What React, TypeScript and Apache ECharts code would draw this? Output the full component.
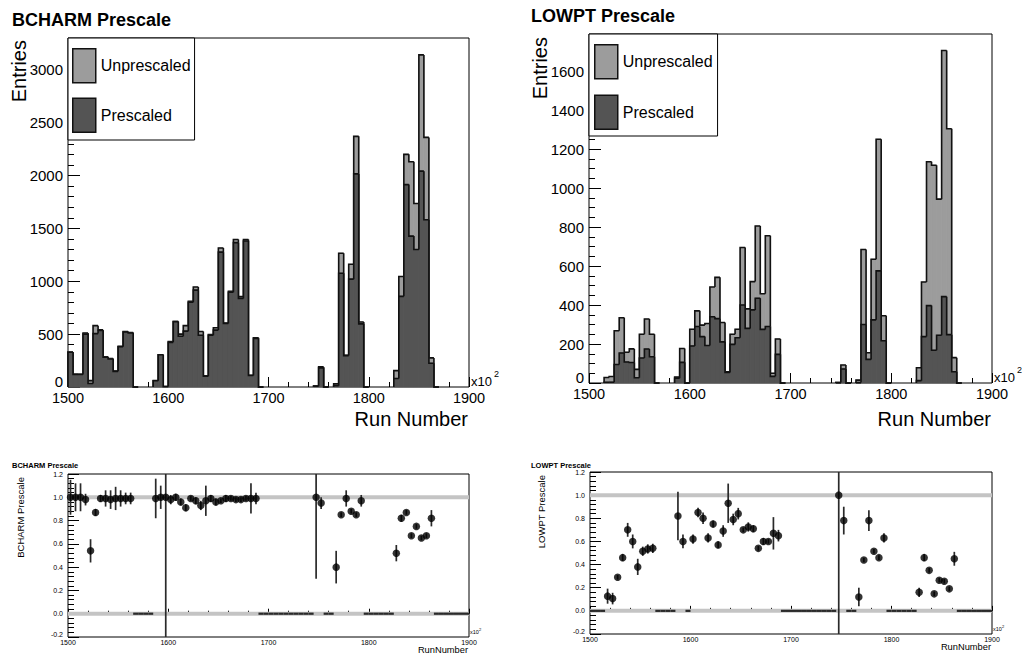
import React, { useEffect, useRef } from "react";
import * as echarts from "echarts";

const FONT = "'Liberation Sans', Arial, Helvetica, sans-serif";

// Histogram binning (run number, in units of 100)
const RUN_MIN = 1500;
const RUN_MAX = 1900;
const BIN_WIDTH = 5;

// Entries per bin (80 bins of 5 from 1500 to 1900)
const bcharmUnprescaled = [
  330, 120, 120, 510, 60, 580, 540, 285, 270, 150,
  385, 525, 515, 0, 0, 0, 0, 60, 305, 5,
  430, 620, 500, 580, 810, 945, 525, 105, 495, 560,
  1315, 605, 905, 1395, 855, 1395, 110, 465, 0, 0,
  0, 0, 0, 0, 0, 0, 0, 0, 0, 8,
  190, 0, 0, 30, 1265, 300, 1160, 2370, 615, 0,
  0, 0, 0, 0, 0, 155, 1045, 2200, 2130, 1735,
  3140, 2360, 275, 0, 0, 0, 0, 0, 0, 0,
];
const bcharmPrescaled = [
  328, 119, 119, 500, 33, 505, 535, 282, 265, 148,
  381, 520, 510, 0, 0, 0, 0, 59, 305, 5,
  422, 618, 480, 528, 802, 916, 490, 102, 490, 538,
  1275, 600, 896, 1365, 838, 1380, 109, 460, 0, 0,
  0, 0, 0, 0, 0, 0, 0, 0, 0, 8,
  181, 0, 0, 12, 1075, 297, 1020, 2015, 597, 0,
  0, 0, 0, 0, 0, 81, 857, 1914, 1427, 1300,
  2041, 1581, 225, 0, 0, 0, 0, 0, 0, 0,
];
const lowptUnprescaled = [
  0, 0, 0, 28, 33, 268, 335, 158, 175, 70,
  250, 328, 250, 0, 0, 0, 0, 30, 177, 0,
  276, 370, 297, 305, 492, 542, 310, 58, 250, 276,
  695, 380, 520, 805, 458, 755, 50, 226, 0, 0,
  0, 0, 0, 0, 0, 0, 0, 0, 0, 2,
  92, 0, 0, 15, 685, 155, 635, 1250, 345, 0,
  0, 0, 0, 0, 0, 78, 518, 1135, 1117, 943,
  1705, 1304, 130, 0, 0, 0, 0, 0, 0, 0,
];
const lowptPrescaled = [
  0, 0, 0, 4, 4, 95, 154, 108, 105, 27,
  128, 174, 135, 0, 0, 0, 0, 24, 106, 0,
  190, 290, 238, 192, 340, 330, 211, 54, 198, 232,
  400, 280, 375, 435, 275, 290, 34, 147, 0, 0,
  0, 0, 0, 0, 0, 0, 0, 0, 0, 2,
  72, 0, 0, 2, 300, 121, 324, 575, 217, 0,
  0, 0, 0, 0, 0, 12, 238, 397, 168, 245,
  443, 248, 58, 0, 0, 0, 0, 0, 0, 0,
];

// Prescale ratio per bin (0 = empty bin drawn as a segment on the zero line)
const bcharmRatio = [
  1.0, 1.0, 1.0, 0.98, 0.54, 0.87, 0.99, 0.99, 0.98, 0.99,
  0.99, 0.99, 0.99, 0, 0, 0, 0, 0.99, 1.0, 1.0,
  0.98, 1.0, 0.96, 0.91, 0.99, 0.97, 0.93, 0.97, 0.99, 0.96,
  0.97, 0.99, 0.99, 0.98, 0.98, 0.99, 0.99, 0.99, 0, 0,
  0, 0, 0, 0, 0, 0, 0, 0, 0, 1.0,
  0.95, 0, 0, 0.4, 0.85, 0.99, 0.88, 0.85, 0.97, 0,
  0, 0, 0, 0, 0, 0.52, 0.82, 0.87, 0.67, 0.75,
  0.65, 0.67, 0.82, 0, 0, 0, 0, 0, 0, 0,
];
const bcharmRatioErr = [
  0.15, 0.12, 0.12, 0.05, 0.1, 0.03, 0.03, 0.07, 0.08, 0.1,
  0.07, 0.05, 0.05, 0, 0, 0, 0, 0.17, 0.1, 1.5,
  0.04, 0.03, 0.03, 0.03, 0.02, 0.03, 0.04, 0.13, 0.03, 0.03,
  0.02, 0.03, 0.02, 0.02, 0.02, 0.02, 0.13, 0.05, 0, 0,
  0, 0, 0, 0, 0, 0, 0, 0, 0, 0.7,
  0.05, 0, 0, 0.14, 0.02, 0.07, 0.02, 0.02, 0.05, 0,
  0, 0, 0, 0, 0, 0.07, 0.03, 0.02, 0.02, 0.02,
  0.02, 0.02, 0.07, 0, 0, 0, 0, 0, 0, 0,
];
const lowptRatio = [
  0, 0, 0, 0.127, 0.106, 0.29, 0.46, 0.7, 0.6, 0.38,
  0.515, 0.535, 0.54, 0, 0, 0, 0, 0.82, 0.6, 0,
  0.62, 0.85, 0.8, 0.63, 0.75, 0.57, 0.69, 0.93, 0.79, 0.84,
  0.7, 0.725, 0.71, 0.54, 0.6, 0.6, 0.67, 0.65, 0, 0,
  0, 0, 0, 0, 0, 0, 0, 0, 0, 1.0,
  0.78, 0, 0, 0.12, 0.44, 0.78, 0.515, 0.46, 0.63, 0,
  0, 0, 0, 0, 0, 0.16, 0.46, 0.35, 0.147, 0.265,
  0.256, 0.19, 0.45, 0, 0, 0, 0, 0, 0, 0,
];
const lowptRatioErr = [
  0, 0, 0, 0.065, 0.05, 0.02, 0.03, 0.06, 0.06, 0.07,
  0.04, 0.04, 0.04, 0, 0, 0, 0, 0.21, 0.06, 0,
  0.04, 0.04, 0.05, 0.04, 0.03, 0.03, 0.05, 0.17, 0.05, 0.05,
  0.02, 0.04, 0.03, 0.02, 0.03, 0.02, 0.14, 0.05, 0, 0,
  0, 0, 0, 0, 0, 0, 0, 0, 0, 1.5,
  0.12, 0, 0, 0.08, 0.02, 0.09, 0.02, 0.02, 0.04, 0,
  0, 0, 0, 0, 0, 0.04, 0.03, 0.02, 0.02, 0.02,
  0.02, 0.02, 0.06, 0, 0, 0, 0, 0, 0, 0,
];

const referenceLevels = [1.0, 0.0];
const legendNames = ["Unprescaled", "Prescaled"];

const UNPRE_COLOR = "#9c9c9c";
const PRE_COLOR = "#545454";
const OUTLINE = "#111";

function histData(values: number[]) {
  return values.map((v, i) => [
    RUN_MIN + i * BIN_WIDTH,
    RUN_MIN + (i + 1) * BIN_WIDTH,
    v,
    i > 0 ? values[i - 1] : 0,
  ]);
}

function fillSeries(name: string, values: number[], color: string, idx: number, z: number) {
  return {
    type: "custom",
    name,
    xAxisIndex: idx,
    yAxisIndex: idx,
    z,
    silent: true,
    itemStyle: { color },
    data: histData(values),
    renderItem: (params: any, api: any) => {
      const v = api.value(2);
      if (!v) return null;
      const p0 = api.coord([api.value(0), v]);
      const p1 = api.coord([api.value(1), 0]);
      return {
        type: "rect",
        shape: { x: p0[0], y: p0[1], width: p1[0] - p0[0], height: p1[1] - p0[1] },
        style: { fill: color, stroke: color, lineWidth: 0.8 },
      };
    },
  };
}

function outlineSeries(name: string, values: number[], idx: number, z: number) {
  return {
    type: "custom",
    name,
    xAxisIndex: idx,
    yAxisIndex: idx,
    z,
    silent: true,
    itemStyle: { color: OUTLINE },
    data: histData(values),
    renderItem: (params: any, api: any) => {
      const x0 = api.value(0);
      const x1 = api.value(1);
      const v = api.value(2);
      const prev = api.value(3);
      if (!v && !prev) return null;
      const a = api.coord([x0, prev]);
      const b = api.coord([x0, v]);
      const c = api.coord([x1, v]);
      return {
        type: "polyline",
        shape: { points: [a, b, c] },
        style: { stroke: OUTLINE, lineWidth: 1.6, fill: null },
      };
    },
  };
}

function ratioSeries(label: string, ratio: number[], err: number[], idx: number) {
  const pts: number[][] = [];
  const zeros: number[][] = [];
  ratio.forEach((v, i) => {
    const x0 = RUN_MIN + i * BIN_WIDTH;
    if (v === 0) zeros.push([x0, x0 + BIN_WIDTH]);
    else pts.push([x0 + BIN_WIDTH / 2, v, err[i]]);
  });
  return [
    {
      type: "custom",
      name: label + " reference",
      xAxisIndex: idx,
      yAxisIndex: idx,
      z: 1,
      silent: true,
      data: referenceLevels.map((v) => [v]),
      renderItem: (params: any, api: any) => {
        const cs = params.coordSys;
        const y = api.coord([RUN_MIN, api.value(0)])[1];
        return {
          type: "line",
          shape: { x1: cs.x, y1: y, x2: cs.x + cs.width, y2: y },
          style: { stroke: "#c4c4c4", lineWidth: 4 },
        };
      },
    },
    {
      type: "custom",
      name: label + " empty",
      xAxisIndex: idx,
      yAxisIndex: idx,
      z: 2,
      silent: true,
      data: zeros,
      renderItem: (params: any, api: any) => {
        const a = api.coord([api.value(0), 0]);
        const b = api.coord([api.value(1), 0]);
        return {
          type: "line",
          shape: { x1: a[0], y1: a[1], x2: b[0], y2: b[1] },
          style: { stroke: "#2a2a2a", lineWidth: 2.2 },
        };
      },
    },
    {
      type: "custom",
      name: label + " errors",
      xAxisIndex: idx,
      yAxisIndex: idx,
      z: 3,
      silent: true,
      data: pts,
      renderItem: (params: any, api: any) => {
        const cs = params.coordSys;
        const x = api.value(0);
        const v = api.value(1);
        const e = api.value(2);
        const t = api.coord([x, v + e]);
        const b = api.coord([x, v - e]);
        const y1 = Math.max(cs.y, t[1]);
        const y2 = Math.min(cs.y + cs.height, b[1]);
        return {
          type: "line",
          shape: { x1: t[0], y1, x2: t[0], y2 },
          style: { stroke: "#2a2a2a", lineWidth: 1.7 },
        };
      },
    },
    {
      type: "scatter",
      name: label,
      xAxisIndex: idx,
      yAxisIndex: idx,
      z: 4,
      silent: true,
      symbol: "circle",
      symbolSize: 7.5,
      itemStyle: { color: "#000" },
      data: pts.map((p) => [p[0], p[1]]),
    },
  ];
}

function xAxisCfg(idx: number, big: boolean) {
  return {
    type: "value",
    gridIndex: idx,
    min: RUN_MIN,
    max: RUN_MAX,
    interval: 100,
    axisLine: { show: false },
    axisTick: { show: true, inside: true, length: big ? 10 : 5, lineStyle: { color: "#000", width: 1 } },
    minorTick: { show: true, splitNumber: 5, length: big ? 5 : 3, lineStyle: { color: "#000", width: 1 } },
    splitLine: { show: false },
    minorSplitLine: { show: false },
    axisLabel: {
      show: true,
      showMinLabel: true,
      showMaxLabel: true,
      color: "#000",
      fontFamily: FONT,
      fontSize: big ? 14.5 : 7,
      margin: big ? 3 : 2,
      formatter: (v: number) => String(v),
    },
  };
}

function yAxisHist(idx: number, max: number, interval: number, minorSplit: number) {
  return {
    type: "value",
    gridIndex: idx,
    min: 0,
    max,
    interval,
    axisLine: { show: false },
    axisTick: { show: true, inside: true, length: 12, lineStyle: { color: "#000", width: 1 } },
    minorTick: { show: true, splitNumber: minorSplit, length: 6, lineStyle: { color: "#000", width: 1 } },
    splitLine: { show: false },
    axisLabel: {
      showMaxLabel: false,
      color: "#000",
      fontFamily: FONT,
      fontSize: 15,
      margin: 5,
      formatter: (v: number) => (v === 0 ? "{z|0}" : String(v)),
      rich: {
        z: { fontSize: 15, fontFamily: FONT, color: "#000", padding: [0, 0, 11, 0] },
      },
    },
  };
}

function yAxisRatio(idx: number) {
  return {
    type: "value",
    gridIndex: idx,
    min: -0.2,
    max: 1.2,
    interval: 0.2,
    axisLine: { show: false },
    axisTick: { show: true, inside: true, length: 11, lineStyle: { color: "#000", width: 1 } },
    minorTick: { show: true, splitNumber: 5, length: 6, lineStyle: { color: "#000", width: 1 } },
    splitLine: { show: false },
    axisLabel: {
      color: "#000",
      fontFamily: FONT,
      fontSize: 7,
      margin: 5,
      formatter: (v: number) => (v < -0.1 ? "{z|" + v.toFixed(1) + "}" : v.toFixed(1)),
      rich: {
        z: { fontSize: 7, fontFamily: FONT, color: "#000", padding: [0, 0, 6, 0] },
      },
    },
  };
}

function legendCfg(left: number, top: number, padding: number[], gap: number) {
  return {
    left,
    top,
    orient: "vertical",
    itemWidth: 23,
    itemHeight: 34,
    itemGap: gap,
    padding,
    backgroundColor: "#fff",
    borderColor: "#000",
    borderWidth: 1,
    borderRadius: 0,
    selectedMode: false,
    textStyle: { color: "#000", fontFamily: FONT, fontSize: 16 },
    data: [
      { name: legendNames[0], icon: "rect", itemStyle: { color: UNPRE_COLOR, borderColor: OUTLINE, borderWidth: 1.5 } },
      { name: legendNames[1], icon: "rect", itemStyle: { color: PRE_COLOR, borderColor: OUTLINE, borderWidth: 1.5 } },
    ],
  };
}

function txt(text: string, x: number, y: number, size: number, opts: any = {}) {
  return {
    type: "text",
    x,
    y,
    rotation: opts.rotation || 0,
    silent: true,
    style: {
      text,
      fill: "#000",
      font: `${opts.bold ? "bold " : ""}${size}px ${FONT}`,
      textAlign: opts.align || "left",
      textVerticalAlign: "middle",
    },
  };
}

export default function App() {
  const ref = useRef<HTMLDivElement>(null);

  useEffect(() => {
    document.body.style.margin = "0";
    if (!ref.current) return;
    const chart = echarts.init(ref.current, null, { renderer: "svg" });

    const grids = [
      { left: 68, top: 38, width: 401, height: 349 },
      { left: 589, top: 34, width: 403, height: 349 },
      { left: 68, top: 474, width: 401, height: 163 },
      { left: 590, top: 472, width: 402, height: 162 },
    ].map((g) => ({ ...g, show: true, borderColor: "#000", borderWidth: 1, backgroundColor: "transparent", containLabel: false }));

    const option: any = {
      animation: false,
      textStyle: { fontFamily: FONT },
      grid: grids,
      xAxis: [xAxisCfg(0, true), xAxisCfg(1, true), xAxisCfg(2, false), xAxisCfg(3, false)],
      yAxis: [
        yAxisHist(0, 3300, 500, 5),
        yAxisHist(1, 1790, 200, 4),
        yAxisRatio(2),
        yAxisRatio(3),
      ],
      legend: [
        legendCfg(68, 38, [10, 4, 7, 4], 14),
        legendCfg(589, 34, [10, 5, 6, 5], 15),
      ],
      series: [
        fillSeries("Unprescaled", bcharmUnprescaled, UNPRE_COLOR, 0, 1),
        outlineSeries("Unprescaled", bcharmUnprescaled, 0, 2),
        fillSeries("Prescaled", bcharmPrescaled, PRE_COLOR, 0, 3),
        outlineSeries("Prescaled", bcharmPrescaled, 0, 4),
        fillSeries("Unprescaled", lowptUnprescaled, UNPRE_COLOR, 1, 1),
        outlineSeries("Unprescaled", lowptUnprescaled, 1, 2),
        fillSeries("Prescaled", lowptPrescaled, PRE_COLOR, 1, 3),
        outlineSeries("Prescaled", lowptPrescaled, 1, 4),
        ...ratioSeries("BCHARM Prescale", bcharmRatio, bcharmRatioErr, 2),
        ...ratioSeries("LOWPT Prescale", lowptRatio, lowptRatioErr, 3),
      ],
      graphic: [
        // top-left panel
        txt("BCHARM Prescale", 12, 20, 18, { bold: true }),
        txt("Entries", 19, 40, 20, { rotation: Math.PI / 2, align: "right" }),
        txt("Run Number", 468, 419, 20, { align: "right" }),
        txt("x10", 471, 381, 13),
        txt("2", 494, 374, 9),
        // top-right panel
        txt("LOWPT Prescale", 531, 16, 18, { bold: true }),
        txt("Entries", 540, 37, 20, { rotation: Math.PI / 2, align: "right" }),
        txt("Run Number", 991, 419, 20, { align: "right" }),
        txt("x10", 994, 377, 13),
        txt("2", 1017, 370, 9),
        // bottom-left panel
        txt("BCHARM Prescale", 12, 465, 7.5, { bold: true }),
        txt("BCHARM Prescale", 20, 477, 9.5, { rotation: Math.PI / 2, align: "right" }),
        txt("RunNumber", 468, 650, 9.3, { align: "right" }),
        txt("x10", 470, 632, 5.5),
        txt("2", 479, 629, 4),
        // bottom-right panel
        txt("LOWPT Prescale", 531, 465, 7.5, { bold: true }),
        txt("LOWPT Prescale", 541, 475, 9.5, { rotation: Math.PI / 2, align: "right" }),
        txt("RunNumber", 991, 647, 9.3, { align: "right" }),
        txt("x10", 993, 629, 5.5),
        txt("2", 1002, 626, 4),
      ],
    };

    chart.setOption(option);
    return () => chart.dispose();
  }, []);

  return <div ref={ref} style={{ width: 1022, height: 654 }} />;
}
